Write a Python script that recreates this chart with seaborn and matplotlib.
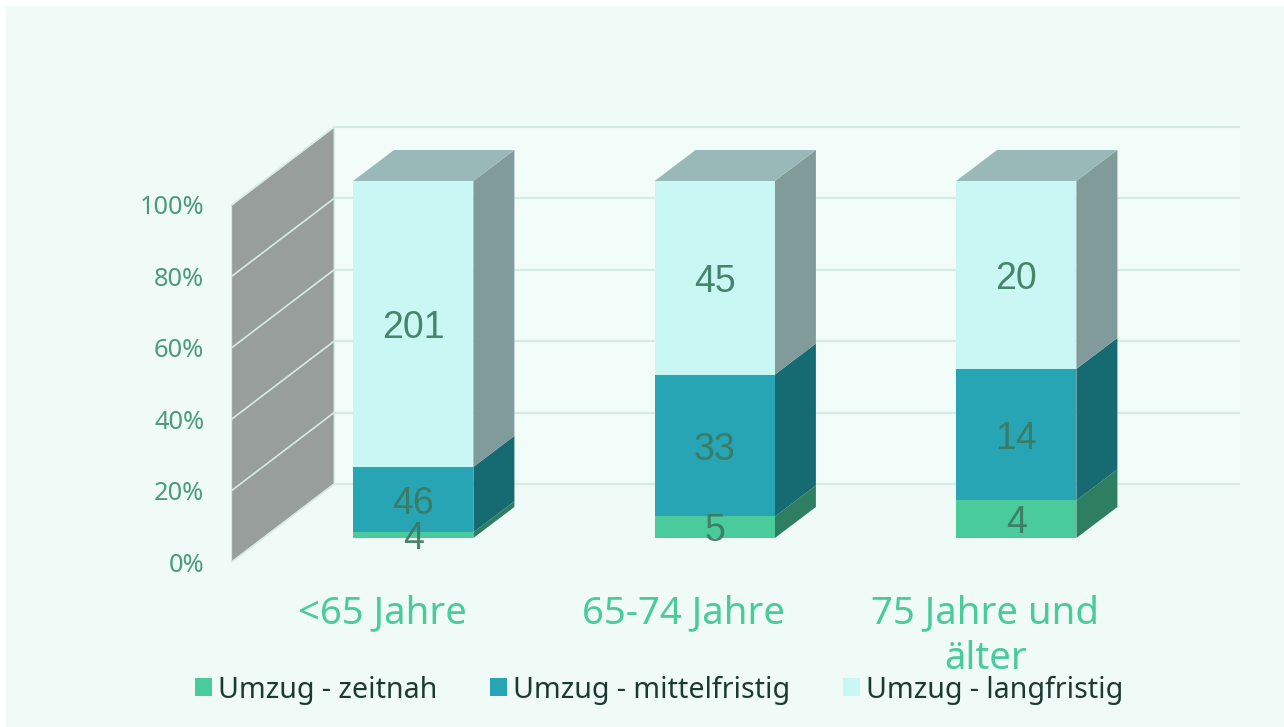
import matplotlib
matplotlib.use("Agg")
import matplotlib.pyplot as plt
from matplotlib.patches import Polygon, Rectangle
from matplotlib.transforms import Affine2D
import numpy as np
import pandas as pd
import seaborn as sns

categories = ["<65 Jahre", "65-74 Jahre", "75 Jahre und\nälter"]
zeitnah = [4, 5, 4]
mittelfristig = [46, 33, 14]
langfristig = [201, 45, 20]
series_names = ["Umzug - zeitnah", "Umzug - mittelfristig", "Umzug - langfristig"]
y_ticks = [0, 20, 40, 60, 80, 100]

front_colors = ["#49CB9B", "#27A5B5", "#C9F7F3"]
side_colors = ["#2E7F62", "#166A72", "#819B9A"]
top_color = "#98B9B8"
W, H = 1284, 727

sns.set_theme(style="white")
plt.rcParams["font.family"] = ["Noto Sans", "DejaVu Sans"]

fig = plt.figure(figsize=(W / 100, H / 100), dpi=100, facecolor="white")
fig.add_artist(Rectangle((6 / W, 0), 1 - 6 / W, 1 - 6 / H, transform=fig.transFigure,
                         facecolor="#F0FAF6", edgecolor="none", zorder=-10))
ax = fig.add_axes([262.5 / W, (H - 538) / H, 904.5 / W, 357 / H])
ax.patch.set_visible(False)

counts = np.array([zeitnah, mittelfristig, langfristig], dtype=float)
shares = counts / counts.sum(axis=0) * 100
bottoms = np.vstack([np.zeros(3), np.cumsum(shares, axis=0)[:-1]])

containers = []
for i, name in enumerate(series_names):
    df = pd.DataFrame({"Alter": categories, "Anteil": shares[i]})
    sns.barplot(data=df, x="Alter", y="Anteil", order=categories, color=front_colors[i],
                saturation=1, bottom=bottoms[i], width=0.399, errorbar=None,
                linewidth=0, ax=ax, label=name, zorder=5)
    containers.append(ax.containers[-1])

ax.set_xlim(-0.5, 2.5)
ax.set_ylim(0, 100)
for s in ax.spines.values():
    s.set_visible(False)
ax.grid(False)
ax.set_xlabel("")
ax.set_ylabel("")


def shifted(dx, dy):
    return ax.transData + Affine2D().translate(dx, dy)


grid_c = "#D6EBE4"
wall_back_x, wall_front_x, wall_right_x = -0.2625, -0.6025, 2.741
back_dy, front_dy = 54, -24

# back wall
ax.add_patch(Rectangle((wall_back_x, 0), wall_right_x - wall_back_x, 100, transform=shifted(0, back_dy),
                       facecolor="#F2FCF9", edgecolor="none", clip_on=False, zorder=0))
for t in y_ticks:
    ax.plot([wall_back_x, wall_right_x], [t, t], transform=shifted(0, back_dy), color=grid_c,
            lw=1.5, clip_on=False, zorder=1, solid_capstyle="butt")

# side wall
a = ax.transData.transform([(wall_front_x, 0), (wall_front_x, 100)]) + [0, front_dy]
b = ax.transData.transform([(wall_back_x, 0), (wall_back_x, 100)]) + [0, back_dy]
ax.add_patch(Polygon([a[0], b[0], b[1], a[1]], closed=True, transform=None, facecolor="#989E9B",
                     edgecolor="#D3E8E1", lw=0.8, clip_on=False, zorder=2))
for t in y_ticks:
    pa = ax.transData.transform((wall_front_x, t)) + [0, front_dy]
    pb = ax.transData.transform((wall_back_x, t)) + [0, back_dy]
    ax.plot([pa[0], pb[0]], [pa[1], pb[1]], transform=None, color="#D6EBE4", lw=1.2,
            clip_on=False, zorder=3)

# 3-D faces of the bars, derived from the bars themselves
depth = np.array([41, 31])
for i, cont in enumerate(containers):
    for bar in cont:
        x0, y0, w, h = bar.get_x(), bar.get_y(), bar.get_width(), bar.get_height()
        p = ax.transData.transform([(x0, y0), (x0 + w, y0), (x0 + w, y0 + h), (x0, y0 + h)])
        ax.add_patch(Polygon([p[1], p[1] + depth, p[2] + depth, p[2]], closed=True, transform=None,
                             facecolor=side_colors[i], edgecolor="none", clip_on=False, zorder=4))
        if i == len(containers) - 1:
            ax.add_patch(Polygon([p[3], p[2], p[2] + depth, p[3] + depth], closed=True, transform=None,
                                 facecolor=top_color, edgecolor="none", clip_on=False, zorder=4))

# data labels
for i, cont in enumerate(containers):
    ax.bar_label(cont, labels=[str(int(v)) for v in counts[i]], label_type="center", padding=-3,
                 family="Liberation Sans", fontsize=27, color="#3C7A60", alpha=0.92, zorder=8)

# axis labels
ax.set_yticks(y_ticks)
ax.set_yticklabels([f"{t}%" for t in y_ticks])
ax.tick_params(axis="y", length=0, pad=42, labelsize=18.3, labelcolor="#4B9B7C")
for lab in ax.get_yticklabels():
    lab.set_transform(lab.get_transform() + Affine2D().translate(0, front_dy))
ax.set_xticks(range(3))
ax.set_xticklabels(categories, linespacing=1.28)
ax.tick_params(axis="x", length=0, pad=40.5, labelsize=27.6, labelcolor="#49CB9B")
for lab in ax.get_xticklabels():
    lab.set_transform(lab.get_transform() + Affine2D().translate(-31, 0))

leg = fig.legend(*ax.get_legend_handles_labels(), loc="center left", bbox_to_anchor=(195 / W, (H - 690) / H),
                 ncol=3, frameon=False, fontsize=20.6, labelcolor="#1B3A32", handlelength=0.59,
                 handleheight=0.59, handletextpad=0.2, columnspacing=1.86, borderpad=0, borderaxespad=0)
if ax.get_legend():
    ax.get_legend().remove()

fig.savefig("out.png", dpi=100, facecolor="white")
